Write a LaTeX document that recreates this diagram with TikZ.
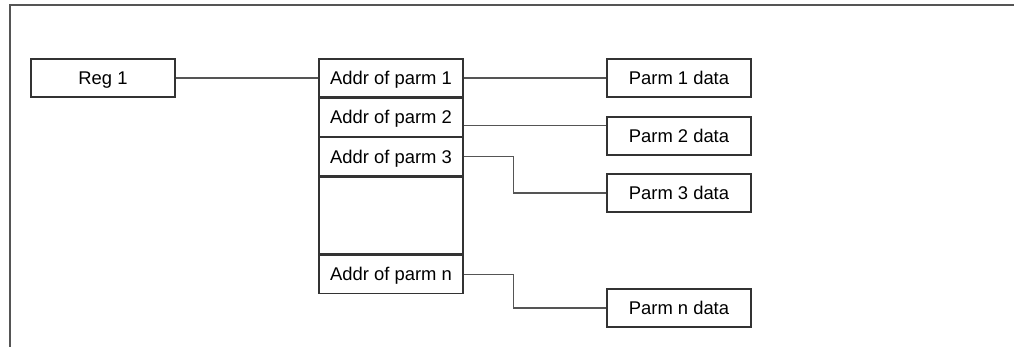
\documentclass[tikz,border=0pt]{standalone}
\usepackage{fontspec}
\setmainfont{Liberation Sans}
\usetikzlibrary{positioning}
\definecolor{BoxLine}{HTML}{333333}
\definecolor{WireLine}{HTML}{555555}

\begin{document}
\begin{tikzpicture}[x=0.5pt,y=-0.5pt,node distance=0pt]
    \tikzset{cellbox/.style={draw=BoxLine,line width=0.65pt,inner sep=0pt,
      minimum width=72pt,minimum height=19pt,text height=6.6pt,text depth=0pt,
      font=\fontsize{9.2}{11}\selectfont},
      wire/.style={draw=WireLine,line width=0.55pt}}
    \useasboundingbox (0,0) rectangle (1014,347);
    \draw[WireLine,line width=0.8pt] (10,347) -- (10,5) -- (1014,5);
    \node[cellbox] (reg) at (103,78) {Reg 1};
    \node[cellbox] (a1) at (391,78) {Addr of parm 1};
    \node[cellbox,below=of a1] (a2) {Addr of parm 2};
    \node[cellbox,below=of a2] (a3) {Addr of parm 3};
    \node[cellbox,below=of a3,minimum height=38.5pt] (gap) {};
    \node[cellbox,below=of gap] (an) {Addr of parm n};
    \node[cellbox] (d1) at (679,78) {Parm 1 data};
    \node[cellbox] (d2) at (679,136) {Parm 2 data};
    \node[cellbox] (d3) at (679,193) {Parm 3 data};
    \node[cellbox] (dn) at (679,308) {Parm n data};
    \coordinate (a2out) at ([yshift=-4.25pt]a2.east);
    \draw[wire] (reg) -- (a1);
    \draw[wire] (a1) -- (d1);
    \draw[wire] (a2out) -- (a2out -| d2.west);
    \draw[wire] (a3.east) -- ++(25pt,0) |- (d3.west);
    \draw[wire] (an.east) -- ++(25pt,0) |- (dn.west);
  \end{tikzpicture}
\end{document}
